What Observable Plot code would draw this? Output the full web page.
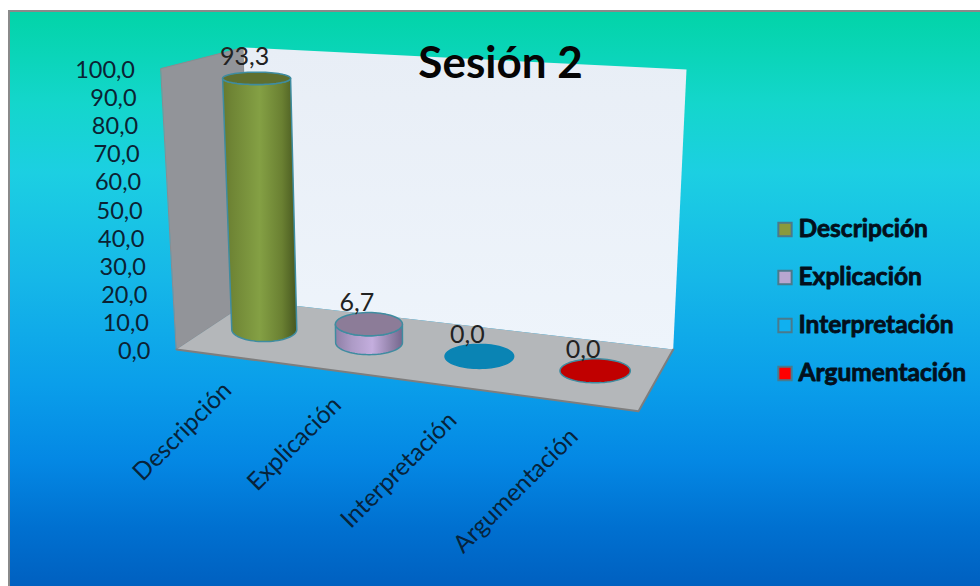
<!DOCTYPE html>
<html>
<head>
<meta charset="utf-8">
<script src="https://cdn.jsdelivr.net/npm/d3@7"></script>
<script src="https://cdn.jsdelivr.net/npm/@observablehq/plot@0.6"></script>
<style>
html,body{margin:0;padding:0;background:#fff;}
#frame{position:relative;width:980px;height:586px;overflow:hidden;background:#fff;}
#bg{position:absolute;left:8px;top:10px;right:0;bottom:0;border-left:2.5px solid #8a8a8a;border-top:2.5px solid #8a8a8a;
background:linear-gradient(180deg,#02d4a8 0%,#14d6cc 16%,#1ccfe2 28%,#16b8e8 46%,#0a9eea 65%,#0488e4 78%,#0070d0 90%,#0060c0 100%);}
#chart{position:absolute;left:0;top:0;}
svg{display:block;}
</style>
</head>
<body>
<div id="frame"><div id="bg"></div><div id="chart"></div></div>
<script>
const title = "Sesión 2";
const categories = ["Descripción", "Explicación", "Interpretación", "Argumentación"];
const values = [93.3, 6.7, 0.0, 0.0];
const valueLabels = ["93,3", "6,7", "0,0", "0,0"];
const yTicks = [0, 10, 20, 30, 40, 50, 60, 70, 80, 90, 100];
const legendColors = ["#8a9a3c", "#b8a6d0", "#10b0f0", "#ff0000"];

// 3-D box seen from the reference: corners in the chart's projected plane
const floorC = {fl:[176,349], fr:[638,410.7], bl:[250,300], br:[672.7,349]};
const topC   = {fl:[160.5,68], fr:[653,100], bl:[243,47], br:[686,69]};
const lerp = (a,b,t) => a + (b-a)*t;
function project(u, w, v) {
  const t = v/100;
  const corner = k => {
    const bottom = lerp(lerp(floorC.fl[k],floorC.fr[k],u), lerp(floorC.bl[k],floorC.br[k],u), w);
    const top    = lerp(lerp(topC.fl[k],topC.fr[k],u),     lerp(topC.bl[k],topC.br[k],u),     w);
    return lerp(bottom, top, t);
  };
  return [corner(0), corner(1)];
}
// Category slot to depth-corrected position along the floor
const slot = i => { const u = (i+0.5)/categories.length; return u - 0.1*u*(1-u) - 0.004; };
const mid = 0.53;
const rxAt = (i,v) => 32.5 + 0.9*i + 0.016*v;
const ryAt = v => 12 - 0.062*v;
function arc(i, v, a0, a1, n=36) {
  const [cx,cy] = project(slot(i), mid, v);
  return d3.range(n+1).map(j => {
    const a = lerp(a0,a1,j/n);
    return {x: cx + rxAt(i,v)*Math.cos(a), y: cy + ryAt(v)*Math.sin(a)};
  });
}
const poly = pts => pts.map(([x,y]) => ({x,y}));
const P = (u,w,v) => project(u,w,v);

const defs = () => {
  const d = d3.create("svg:defs");
  const grad = (id, stops, dir) => {
    const g = d.append("linearGradient").attr("id",id).attr("x1",0).attr("y1",0)
      .attr("x2",dir==="h"?1:0).attr("y2",dir==="h"?0:1);
    stops.forEach(([o,c]) => g.append("stop").attr("offset",o).attr("stop-color",c));
  };
  grad("green",[[0,"#66792e"],[0.12,"#6f8535"],[0.5,"#84a044"],[0.8,"#6a8032"],[1,"#46561f"]],"h");
  grad("lilac",[[0,"#8f7fa6"],[0.25,"#ad9bc6"],[0.55,"#c4aede"],[0.85,"#8f7fa6"],[1,"#75678e"]],"h");
  grad("wall",[[0,"#e8eef6"],[1,"#eef4fb"]],"v");
  return d.node();
};

const marks = [defs];
const shape = (pts, o) => Plot.line(pts, {x:"x", y:"y", curve:"linear-closed", ...o});

// walls and floor
marks.push(shape(poly([P(0,0,0),P(0,1,0),P(0,1,100),P(0,0,100)]), {fill:"#929499", stroke:"#8a8c90", strokeWidth:1}));
marks.push(shape(poly([P(0,1,0),P(1,1,0),P(1,1,100),P(0,1,100)]), {fill:"url(#wall)"}));
marks.push(shape(poly([P(0,0,0),P(1,0,0),P(1,1,0),P(0,1,0)]), {fill:"#b4b7ba"}));
marks.push(Plot.line(poly([P(0,0,0),P(1,0,0),P(1,1,0)]), {x:"x", y:"y", stroke:"#7e7e7e", strokeWidth:2}));

// cylinders
const stroke = "#3f8ca0";
const caps = ["#5f6f2f", "#8c7c98", "#0a84b4", "#c00000"];
const bodies = ["url(#green)", "url(#lilac)", null, null];
values.forEach((v,i) => {
  if (v > 0) {
    const bottom = arc(i, 0, 0, Math.PI);
    const top = arc(i, v, Math.PI, 0);
    marks.push(shape([...bottom, ...top], {fill:bodies[i], stroke, strokeWidth:1.5}));
  }
  marks.push(shape(arc(i, v, 0, 2*Math.PI, 72), {fill:caps[i], stroke: i===2 ? "#0a84b4" : stroke, strokeWidth:1.5}));
});

// value labels
const labelRows = categories.map((c,i) => {
  const [x,y] = project(slot(i), mid, values[i]);
  return {x, y, label: valueLabels[i]};
});
marks.push(Plot.text(labelRows, {x:"x", y:"y", text:"label", dx:-12, dy:-21, fontSize:25, fontFamily:"Lato", fill:"#222"}));

// value axis along the front wall edge
const fmt = d => d.toFixed(1).replace(".", ",");
const tickRows = yTicks.map(t => { const [x,y] = project(0,0,t); return {x, y, label: fmt(t)}; });
marks.push(Plot.text(tickRows, {x:"x", y:"y", text:"label", dx:-26, dy:2, textAnchor:"end", fontSize:23.5, fontFamily:"Lato", fill:"#0b2233"}));

// category axis along the front floor edge
const catRows = categories.map((c,i) => { const [x,y] = project(slot(i), 0, 0); return {x, y, label:c}; });
marks.push(Plot.text(catRows, {x:"x", y:"y", text:"label", dx:0, dy:30, rotate:-45, textAnchor:"end", fontSize:24.5, fontFamily:"Lato", fill:"#07233a"}));

// title
marks.push(Plot.text([title], {x:()=>500, y:()=>63, text:d=>d, fontSize:44, fontWeight:700, fontFamily:"Lato", fill:"#050505"}));

// legend
const legendRows = categories.map((c,i) => ({label:c, color:legendColors[i], y:229+48*i}));
marks.push(Plot.dot(legendRows, {x:()=>784.5, y:"y", symbol:"square", r:7.5, fill:"color", stroke:"#4a7a8c", strokeWidth:2}));
marks.push(Plot.text(legendRows, {x:()=>798, y:"y", text:"label", textAnchor:"start", fontSize:24.5, fontWeight:700, fontFamily:"Lato", fill:"#03101c", stroke:"#03101c", strokeWidth:0.8}));

const chart = Plot.plot({
  width:980, height:586,
  margin:0,
  x:{domain:[0,980], range:[0,980], axis:null},
  y:{domain:[0,586], range:[0,586], axis:null},
  style:{background:"transparent"},
  marks
});
document.getElementById("chart").append(chart);
</script>
</body>
</html>
